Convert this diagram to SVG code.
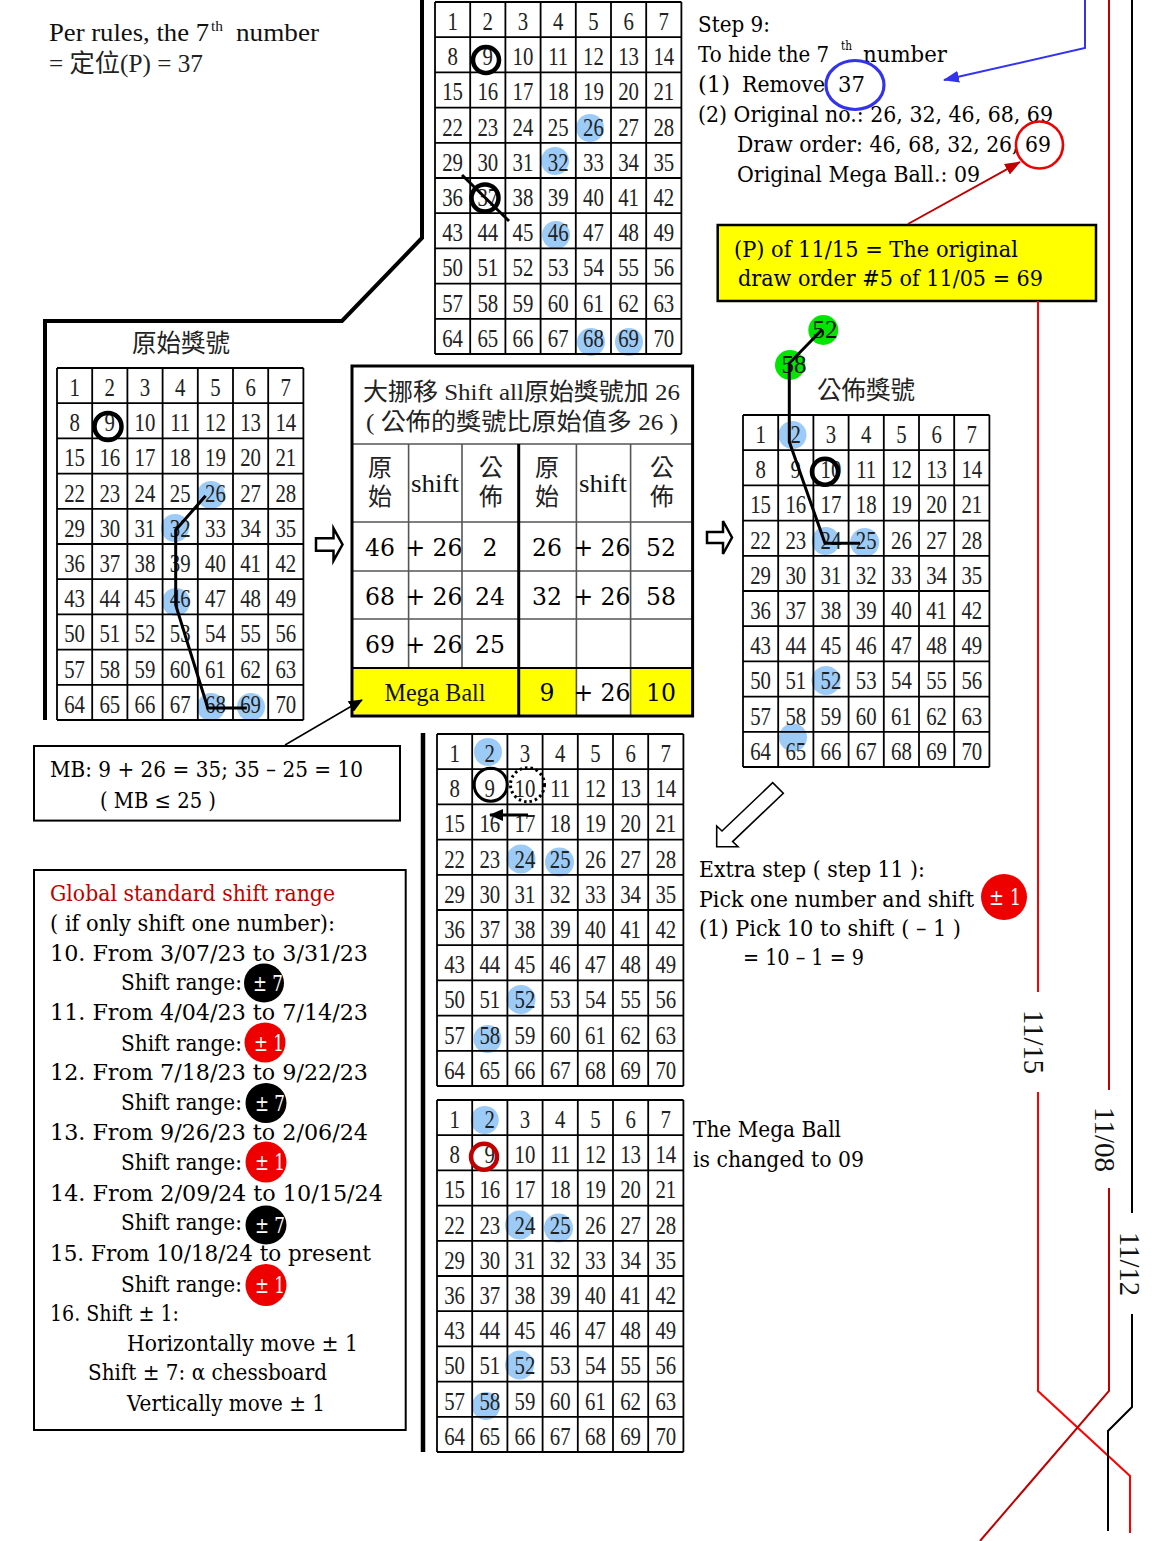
<svg xmlns="http://www.w3.org/2000/svg" width="1154" height="1541" viewBox="0 0 1154 1541">
<style>
.num{font-family:"Liberation Serif",serif;font-size:26px;fill:#222;text-anchor:middle}
.gl{fill:none;stroke:#000;stroke-width:1.8}
.cj{font-family:"Liberation Serif","Noto Sans CJK TC",serif;fill:#222}
.cb{font-family:"DejaVu Serif",serif;font-size:22px;fill:#000}
.lb{font-family:"Liberation Serif",serif;fill:#111}
.blue{fill:#9ccbf8}
.ring{fill:none;stroke:#000;stroke-width:4.5}
.ln{fill:none;stroke:#000}
.bw{fill:#fff;font-family:"DejaVu Serif",serif;font-size:22px}
.mid{text-anchor:middle}
</style>
<defs>
<marker id="mk" markerUnits="userSpaceOnUse" markerWidth="14" markerHeight="12" refX="13" refY="6" orient="auto"><path d="M0,0 L14,6 L0,12 z" fill="#000"/></marker>
<marker id="mb" markerUnits="userSpaceOnUse" markerWidth="16" markerHeight="12" refX="15" refY="6" orient="auto"><path d="M0,0 L16,6 L0,12 z" fill="#3333ee"/></marker>
<marker id="mr" markerUnits="userSpaceOnUse" markerWidth="16" markerHeight="12" refX="15" refY="6" orient="auto"><path d="M0,0 L16,6 L0,12 z" fill="#c00000"/></marker>
<g id="grid">
<path class="gl" d="M0 0H246.4M0 35.2H246.4M0 70.4H246.4M0 105.6H246.4M0 140.8H246.4M0 176H246.4M0 211.2H246.4M0 246.4H246.4M0 281.6H246.4M0 316.8H246.4M0 352H246.4M0 0V352M35.2 0V352M70.4 0V352M105.6 0V352M140.8 0V352M176 0V352M211.2 0V352M246.4 0V352"/>
<g transform="scale(0.8 1)" class="num">
<text y="28"><tspan x="22">1</tspan><tspan x="66">2</tspan><tspan x="110">3</tspan><tspan x="154">4</tspan><tspan x="198">5</tspan><tspan x="242">6</tspan><tspan x="286">7</tspan></text>
<text y="63.2"><tspan x="22">8</tspan><tspan x="66">9</tspan><tspan x="110">10</tspan><tspan x="154">11</tspan><tspan x="198">12</tspan><tspan x="242">13</tspan><tspan x="286">14</tspan></text>
<text y="98.4"><tspan x="22">15</tspan><tspan x="66">16</tspan><tspan x="110">17</tspan><tspan x="154">18</tspan><tspan x="198">19</tspan><tspan x="242">20</tspan><tspan x="286">21</tspan></text>
<text y="133.6"><tspan x="22">22</tspan><tspan x="66">23</tspan><tspan x="110">24</tspan><tspan x="154">25</tspan><tspan x="198">26</tspan><tspan x="242">27</tspan><tspan x="286">28</tspan></text>
<text y="168.8"><tspan x="22">29</tspan><tspan x="66">30</tspan><tspan x="110">31</tspan><tspan x="154">32</tspan><tspan x="198">33</tspan><tspan x="242">34</tspan><tspan x="286">35</tspan></text>
<text y="204"><tspan x="22">36</tspan><tspan x="66">37</tspan><tspan x="110">38</tspan><tspan x="154">39</tspan><tspan x="198">40</tspan><tspan x="242">41</tspan><tspan x="286">42</tspan></text>
<text y="239.2"><tspan x="22">43</tspan><tspan x="66">44</tspan><tspan x="110">45</tspan><tspan x="154">46</tspan><tspan x="198">47</tspan><tspan x="242">48</tspan><tspan x="286">49</tspan></text>
<text y="274.4"><tspan x="22">50</tspan><tspan x="66">51</tspan><tspan x="110">52</tspan><tspan x="154">53</tspan><tspan x="198">54</tspan><tspan x="242">55</tspan><tspan x="286">56</tspan></text>
<text y="309.6"><tspan x="22">57</tspan><tspan x="66">58</tspan><tspan x="110">59</tspan><tspan x="154">60</tspan><tspan x="198">61</tspan><tspan x="242">62</tspan><tspan x="286">63</tspan></text>
<text y="344.8"><tspan x="22">64</tspan><tspan x="66">65</tspan><tspan x="110">66</tspan><tspan x="154">67</tspan><tspan x="198">68</tspan><tspan x="242">69</tspan><tspan x="286">70</tspan></text>
</g>
</g>
</defs>
<rect width="1154" height="1541" fill="#fff"/>

<g id="rule-text">
<text class="lb" font-size="25" x="49" y="41" textLength="160" lengthAdjust="spacingAndGlyphs">Per rules, the 7</text>
<text class="lb" font-size="14" x="211" y="31" textLength="12" lengthAdjust="spacingAndGlyphs">th</text>
<text class="lb" font-size="25" x="236" y="41" textLength="83" lengthAdjust="spacingAndGlyphs">number</text>
<text class="cj" font-size="25" x="49" y="72" textLength="154" lengthAdjust="spacingAndGlyphs">= 定位(P) = 37</text>
</g>

<g id="top-grid">
<circle class="blue" cx="590" cy="128" r="14"/>
<circle class="blue" cx="555" cy="161" r="14"/>
<circle class="blue" cx="556" cy="235" r="14"/>
<circle class="blue" cx="591" cy="342" r="14"/>
<circle class="blue" cx="629" cy="342" r="14"/>
<use href="#grid" x="435" y="2"/>
<circle class="ring" cx="486" cy="60" r="13"/>
<circle class="ring" cx="485" cy="198" r="13.5"/>
<path class="ln" stroke-width="3" d="M462,175 L509,221"/>
</g>

<g id="original-grid">
<text class="cj" font-size="24.5" x="132" y="352" fill="#444" textLength="98" lengthAdjust="spacingAndGlyphs">原始獎號</text>
<circle class="blue" cx="211" cy="495" r="14"/>
<circle class="blue" cx="175" cy="528" r="14"/>
<circle class="blue" cx="176" cy="602" r="14"/>
<circle class="blue" cx="211" cy="707" r="14"/>
<circle class="blue" cx="251" cy="707" r="14"/>
<use href="#grid" x="57" y="368"/>
<circle class="ring" cx="108" cy="426.5" r="13.5"/>
<path class="ln" stroke-width="3" d="M205.6,495.7 L175.7,530 V605 L207.8,708 H246.8"/>
</g>

<g id="arrow-1">
<polygon points="316,538.3 333.5,538.3 333.5,528.3 342.5,544.5 333.5,560.7 333.5,550.7 316,550.7" fill="#fff" stroke="#000" stroke-width="2.5"/>
</g>
<g id="arrow-2">
<polygon points="707,532 723,532 723,521 732,537.5 723,554 723,543 707,543" fill="#fff" stroke="#000" stroke-width="2.5"/>
</g>

<g id="shift-table">
<rect x="352" y="366" width="340.6" height="350" fill="#fff"/>
<rect x="353.5" y="668.5" width="164" height="46" fill="#ffff00"/>
<rect x="519.5" y="668.5" width="56.5" height="46" fill="#ffff00"/>
<rect x="631" y="668.5" width="60" height="46" fill="#ffff00"/>
<path fill="none" stroke="#555" stroke-width="1.6" d="M352,444 H692.6 M352,522 H692.6 M352,571 H692.6 M352,619 H692.6 M408.6,444 V668 M462,444 V668 M576.4,444 V716 M630.6,444 V716"/>
<path fill="none" stroke="#000" stroke-width="1.8" d="M352,668 H692.6"/>
<path fill="none" stroke="#000" stroke-width="3" d="M518.7,444 V716"/>
<rect x="352" y="366" width="340.6" height="350" fill="none" stroke="#000" stroke-width="3"/>
<text class="cj" font-size="24" x="363" y="400" textLength="317" lengthAdjust="spacingAndGlyphs">大挪移 Shift all原始獎號加 26</text>
<text class="cj" font-size="24" x="366" y="430" textLength="312" lengthAdjust="spacingAndGlyphs">( 公佈的獎號比原始值多 26 )</text>
<g class="cj mid" font-size="24">
<text x="380" y="476">原</text><text x="380" y="505">始</text>
<text x="491" y="476">公</text><text x="491" y="505">佈</text>
<text x="547" y="476">原</text><text x="547" y="505">始</text>
<text x="662" y="476">公</text><text x="662" y="505">佈</text>
</g>
<text class="lb mid" font-size="26" x="435" y="492" textLength="48" lengthAdjust="spacingAndGlyphs">shift</text>
<text class="lb mid" font-size="26" x="603" y="492" textLength="48" lengthAdjust="spacingAndGlyphs">shift</text>
<g class="cb mid" style="font-size:23.5px">
<text x="380" y="556">46</text><text x="434" y="556">+ 26</text><text x="490" y="556">2</text><text x="547" y="556">26</text><text x="602" y="556">+ 26</text><text x="661" y="556">52</text>
<text x="380" y="605">68</text><text x="434" y="605">+ 26</text><text x="490" y="605">24</text><text x="547" y="605">32</text><text x="602" y="605">+ 26</text><text x="661" y="605">58</text>
<text x="380" y="653">69</text><text x="434" y="653">+ 26</text><text x="490" y="653">25</text>
<text x="547" y="701">9</text><text x="602" y="701">+ 26</text><text x="661" y="701">10</text>
</g>
<text class="lb mid" font-size="25" x="435" y="701" textLength="101" lengthAdjust="spacingAndGlyphs">Mega Ball</text>
</g>

<g id="mb-box">
<rect x="34" y="746" width="366" height="74.6" fill="none" stroke="#000" stroke-width="2"/>
<text class="cb" x="50" y="777" textLength="313" lengthAdjust="spacingAndGlyphs">MB:  9 + 26 = 35; 35 – 25 = 10</text>
<text class="cb" x="100" y="808" textLength="116" lengthAdjust="spacingAndGlyphs">( MB ≤ 25 )</text>
</g>

<g id="shift-range-box">
<rect x="34" y="870" width="371.7" height="560" fill="none" stroke="#000" stroke-width="2"/>
<text class="cb" x="50" y="901" style="fill:#c00000" textLength="285" lengthAdjust="spacingAndGlyphs">Global standard shift range</text>
<text class="cb" x="50" y="931" textLength="285" lengthAdjust="spacingAndGlyphs">( if only shift one number):</text>
<text class="cb" x="50" y="961" textLength="318" lengthAdjust="spacingAndGlyphs">10. From 3/07/23 to 3/31/23</text>
<text class="cb" x="121" y="990" textLength="121" lengthAdjust="spacingAndGlyphs">Shift range:</text>
<text class="cb" x="50" y="1020" textLength="318" lengthAdjust="spacingAndGlyphs">11. From 4/04/23 to 7/14/23</text>
<text class="cb" x="121" y="1050.6" textLength="121" lengthAdjust="spacingAndGlyphs">Shift range:</text>
<text class="cb" x="50" y="1080" textLength="318" lengthAdjust="spacingAndGlyphs">12. From 7/18/23 to 9/22/23</text>
<text class="cb" x="121" y="1110" textLength="121" lengthAdjust="spacingAndGlyphs">Shift range:</text>
<text class="cb" x="50" y="1140" textLength="318" lengthAdjust="spacingAndGlyphs">13. From 9/26/23 to 2/06/24</text>
<text class="cb" x="121" y="1170" textLength="121" lengthAdjust="spacingAndGlyphs">Shift range:</text>
<text class="cb" x="50" y="1201" textLength="333" lengthAdjust="spacingAndGlyphs">14. From 2/09/24 to 10/15/24</text>
<text class="cb" x="121" y="1230" textLength="121" lengthAdjust="spacingAndGlyphs">Shift range:</text>
<text class="cb" x="50" y="1261" textLength="321" lengthAdjust="spacingAndGlyphs">15. From 10/18/24 to present</text>
<text class="cb" x="121" y="1291.6" textLength="121" lengthAdjust="spacingAndGlyphs">Shift range:</text>
<text class="cb" x="50" y="1321" textLength="129" lengthAdjust="spacingAndGlyphs">16. Shift ± 1:</text>
<text class="cb" x="127" y="1350.5" textLength="231" lengthAdjust="spacingAndGlyphs">Horizontally move ± 1</text>
<text class="cb" x="88" y="1380" textLength="239" lengthAdjust="spacingAndGlyphs">Shift ± 7: α chessboard</text>
<text class="cb" x="127" y="1410.7" textLength="198" lengthAdjust="spacingAndGlyphs">Vertically move ± 1</text>
<ellipse cx="264" cy="983" rx="20" ry="19.5" fill="#000"/>
<text class="bw" x="253" y="991" textLength="30" lengthAdjust="spacingAndGlyphs">± 7</text>
<ellipse cx="265" cy="1042.5" rx="20.5" ry="20" fill="#ee0000"/>
<text class="bw" x="254" y="1050.5" textLength="30" lengthAdjust="spacingAndGlyphs">± 1</text>
<ellipse cx="266" cy="1103" rx="20.5" ry="20" fill="#000"/>
<text class="bw" x="255" y="1111" textLength="30" lengthAdjust="spacingAndGlyphs">± 7</text>
<ellipse cx="266" cy="1162" rx="20.5" ry="20.5" fill="#ee0000"/>
<text class="bw" x="255" y="1170" textLength="30" lengthAdjust="spacingAndGlyphs">± 1</text>
<ellipse cx="266" cy="1225" rx="20.5" ry="19.5" fill="#000"/>
<text class="bw" x="255" y="1233" textLength="30" lengthAdjust="spacingAndGlyphs">± 7</text>
<ellipse cx="266" cy="1285" rx="20.5" ry="21" fill="#ee0000"/>
<text class="bw" x="255" y="1293" textLength="30" lengthAdjust="spacingAndGlyphs">± 1</text>
</g>

<g id="step9-text">
<text class="cb" x="698" y="32" textLength="72" lengthAdjust="spacingAndGlyphs">Step 9:</text>
<text class="cb" x="698" y="62" textLength="131" lengthAdjust="spacingAndGlyphs">To hide the 7</text>
<text class="cb" x="841" y="50" style="font-size:12px" textLength="11" lengthAdjust="spacingAndGlyphs">th</text>
<text class="cb" x="863" y="62" textLength="84" lengthAdjust="spacingAndGlyphs">number</text>
<text class="cb" x="698" y="92" textLength="32" lengthAdjust="spacingAndGlyphs">(1)</text>
<text class="cb" x="742" y="92" textLength="83" lengthAdjust="spacingAndGlyphs">Remove</text>
<text class="cb" x="838" y="92" textLength="27" lengthAdjust="spacingAndGlyphs">37</text>
<text class="cb" x="698" y="122" textLength="355" lengthAdjust="spacingAndGlyphs">(2) Original no.: 26, 32, 46, 68, 69</text>
<text class="cb" x="737" y="152" textLength="314" lengthAdjust="spacingAndGlyphs">Draw order: 46, 68, 32, 26, 69</text>
<text class="cb" x="737" y="182" textLength="243" lengthAdjust="spacingAndGlyphs">Original Mega Ball.:  09</text>
<ellipse cx="855" cy="85" rx="29" ry="24.5" fill="none" stroke="#3333ee" stroke-width="3.2"/>
<ellipse cx="1039.5" cy="145" rx="23.5" ry="23.5" fill="none" stroke="#ee0000" stroke-width="2.6"/>
</g>

<g id="p-box">
<rect x="717.7" y="225" width="378.3" height="76" fill="#ffff00" stroke="#000" stroke-width="2.5"/>
<text class="cb" x="734" y="257" textLength="284" lengthAdjust="spacingAndGlyphs">(P) of 11/15 = The original</text>
<text class="cb" x="738" y="286" textLength="305" lengthAdjust="spacingAndGlyphs">draw order #5 of 11/05 = 69</text>
</g>

<g id="published-grid">
<text class="cj" font-size="24.5" x="817" y="399" fill="#444" textLength="98" lengthAdjust="spacingAndGlyphs">公佈獎號</text>
<circle cx="823.3" cy="330" r="15" fill="#00e600"/>
<circle cx="790" cy="365" r="15" fill="#00e600"/>
<text class="lb mid" font-size="25" x="825" y="338" fill="#000">52</text>
<text class="lb mid" font-size="25" x="794" y="373" fill="#000">58</text>
<circle class="blue" cx="792.5" cy="435" r="14"/>
<circle class="blue" cx="825.7" cy="541" r="14"/>
<circle class="blue" cx="864.7" cy="542.5" r="14.5"/>
<circle class="blue" cx="826" cy="680.5" r="14.5"/>
<circle class="blue" cx="793" cy="737.5" r="14"/>
<use href="#grid" x="743" y="415"/>
<circle class="ring" cx="825" cy="471.7" r="13" stroke-width="5"/>
<path class="ln" stroke-width="3" d="M821.7,330 L789.3,363.3 V441.7 L825,543.3 H860"/>
</g>

<g id="extra-grid">
<circle class="blue" cx="488" cy="752" r="14"/>
<circle class="blue" cx="521" cy="859" r="14.5"/>
<circle class="blue" cx="559.5" cy="862" r="14.5"/>
<circle class="blue" cx="521" cy="999.5" r="14.5"/>
<circle class="blue" cx="487.5" cy="1039" r="14"/>
<use href="#grid" x="437" y="734"/>
<circle cx="490.7" cy="784.7" r="16.5" fill="none" stroke="#000" stroke-width="3"/>
<circle cx="527.5" cy="784.7" r="17" fill="none" stroke="#000" stroke-width="3" stroke-dasharray="2.5 3"/>
<path class="ln" stroke-width="3" d="M528,815 H490" marker-end="url(#mk)"/>
</g>

<g id="final-grid">
<circle class="blue" cx="484.7" cy="1120" r="14"/>
<circle class="blue" cx="519.5" cy="1225" r="14.5"/>
<circle class="blue" cx="558.5" cy="1228" r="14.5"/>
<circle class="blue" cx="519.5" cy="1365" r="14.5"/>
<circle class="blue" cx="486" cy="1406" r="14"/>
<use href="#grid" x="437" y="1100"/>
<circle cx="484" cy="1156.7" r="13" fill="none" stroke="#c00000" stroke-width="4.5"/>
</g>

<g id="extra-step-text">
<polygon points="716.7,846.7 716.7,826 722,831 772.7,782.7 783.3,793.3 732.6,841.6 738,846.7" fill="#fff" stroke="#000" stroke-width="1.6"/>
<text class="cb" x="699" y="877" textLength="226" lengthAdjust="spacingAndGlyphs">Extra step ( step 11 ):</text>
<text class="cb" x="699" y="907" textLength="275" lengthAdjust="spacingAndGlyphs">Pick one number and shift</text>
<text class="cb" x="699" y="936" textLength="262" lengthAdjust="spacingAndGlyphs">(1) Pick 10 to shift ( – 1 )</text>
<text class="cb" x="743" y="965" textLength="121" lengthAdjust="spacingAndGlyphs">= 10 – 1 = 9</text>
<ellipse cx="1004" cy="897" rx="23" ry="23" fill="#ee0000"/>
<text class="bw" x="989" y="905" textLength="32" lengthAdjust="spacingAndGlyphs">± 1</text>
</g>

<g id="megaball-text">
<text class="cb" x="693" y="1137" textLength="148" lengthAdjust="spacingAndGlyphs">The Mega Ball</text>
<text class="cb" x="693" y="1167" textLength="171" lengthAdjust="spacingAndGlyphs">is changed to 09</text>
</g>

<g id="connectors">
<path class="ln" stroke-width="4" d="M422,0 V238 L342,321 H45 V720"/>
<path class="ln" stroke-width="4.5" d="M423,733 V1452"/>
<path fill="none" stroke="#3333ee" stroke-width="2" d="M1085,0 V48 L944,80" marker-end="url(#mb)"/>
<path fill="none" stroke="#c00000" stroke-width="2" d="M908,224 L1020,162" marker-end="url(#mr)"/>
<path class="ln" stroke-width="1.5" d="M285,745 L362,700" marker-end="url(#mk)"/>
<path fill="none" stroke="#ff0000" stroke-width="2" d="M1038,301 V992 M1038,1092 V1391 L1130,1476 V1533"/>
<path fill="none" stroke="#c00000" stroke-width="2" d="M1109,0 V1090 M1109,1188 V1391 L980,1541"/>
<path fill="none" stroke="#000" stroke-width="2" d="M1132,0 V1213 M1132,1314 V1407 L1108,1431 V1531"/>
<text class="lb" font-size="30" fill="#ff0000" transform="translate(1024,1010) rotate(90)" textLength="64" lengthAdjust="spacingAndGlyphs">11/15</text>
<text class="lb" font-size="30" fill="#ff0000" transform="translate(1095,1107) rotate(90)" textLength="65" lengthAdjust="spacingAndGlyphs">11/08</text>
<text class="lb" font-size="30" fill="#000" transform="translate(1120,1232) rotate(90)" textLength="64" lengthAdjust="spacingAndGlyphs">11/12</text>
</g>
</svg>
